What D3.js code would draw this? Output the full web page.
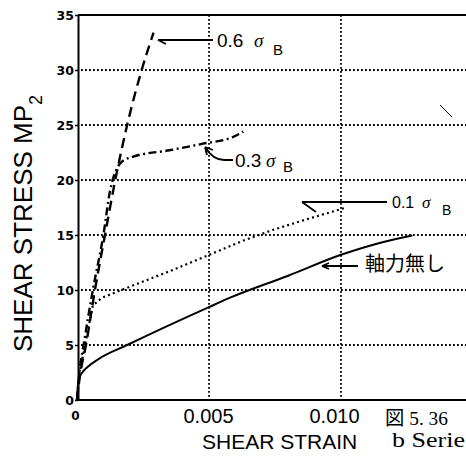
<!DOCTYPE html>
<html><head><meta charset="utf-8">
<script src="https://cdn.jsdelivr.net/npm/d3@7"></script>
<style>body{margin:0;background:#fff}svg{display:block}</style>
</head><body>
<svg id="chart" width="466" height="457"></svg>
<script>
// ---- data ----
const xTicks = [0, 0.005, 0.010];
const xTickLabels = ["0", "0.005", "0.010"];
const yTicks = [0, 5, 10, 15, 20, 25, 30, 35];
const yGrid = [5, 10, 15, 20, 25, 30];
const xGrid = [0.005, 0.010];

// axial load 0.6 σB (dashed)
const strain06 = [0, 0.0001, 0.00034, 0.00068, 0.00106, 0.00145, 0.0019, 0.00245, 0.0029];
const stress06 = [0, 2, 5, 10, 15, 20, 25, 30, 33.4];
// axial load 0.3 σB (dash-dot)
const strain03 = [0, 0.0001, 0.00025, 0.0006, 0.001, 0.00125, 0.0015, 0.00172, 0.0021, 0.0035, 0.00477, 0.0059, 0.0063];
const stress03 = [0, 2.7, 5, 10, 15, 19, 21, 21.7, 22.1, 22.7, 23.3, 23.9, 24.4];
// axial load 0.1 σB (dotted)
const strain01 = [0, 0.0001, 0.0006, 0.00095, 0.002, 0.0035, 0.005, 0.0062, 0.0074, 0.0088, 0.0102];
const stress01 = [0, 2.5, 8.6, 9.3, 10.3, 11.7, 13.2, 14.4, 15.45, 16.5, 17.5];
// no axial load (solid)
const strain00 = [0, 0.00003, 0.0001, 0.0002, 0.0004, 0.0008, 0.0019, 0.005, 0.0058, 0.008, 0.010, 0.0115, 0.0127];
const stress00 = [0, 1.2, 2.1, 2.5, 3.0, 3.7, 5.0, 8.45, 9.3, 11.3, 13.2, 14.3, 14.95];

const zip = (xs, ys) => xs.map((v, i) => [v, ys[i]]);

// ---- chart ----
const svg = d3.select("#chart");
const x = d3.scaleLinear().domain([0, 0.015]).range([77, 473]);
const y = d3.scaleLinear().domain([0, 35]).range([400, 15]);

const line = d3.line().x(d => x(d[0])).y(d => y(d[1])).curve(d3.curveMonotoneX);
const lineStraight = d3.line().x(d => x(d[0])).y(d => y(d[1]));

// grid
svg.append("g").selectAll("line").data(yGrid).join("line")
  .attr("x1", 81).attr("x2", 466)
  .attr("y1", d => y(d)).attr("y2", d => y(d))
  .attr("stroke", "#000").attr("stroke-width", 1.8).attr("stroke-dasharray", "1.8,2.2");
svg.append("g").selectAll("line").data(xGrid).join("line")
  .attr("x1", d => x(d)).attr("x2", d => x(d))
  .attr("y1", y(35)).attr("y2", y(0))
  .attr("stroke", "#000").attr("stroke-width", 1.8).attr("stroke-dasharray", "1.8,2.2");

// top frame
svg.append("line").attr("x1", 78).attr("x2", 466).attr("y1", y(35)).attr("y2", y(35))
  .attr("stroke", "#000").attr("stroke-width", 2);

// left axis
const gy = svg.append("g").attr("transform", "translate(78,0)")
  .call(d3.axisLeft(y).tickValues(yTicks).tickSize(3).tickSizeOuter(0).tickPadding(1));
gy.select(".domain").attr("stroke-width", 2);
gy.selectAll(".tick line").attr("stroke-width", 1.5);
gy.selectAll(".tick text").attr("font-family", "DejaVu Sans").attr("font-weight", "bold")
  .attr("font-size", 12.5).attr("fill", "#000");

// bottom axis
const gx = svg.append("g").attr("transform", "translate(0,400)")
  .call(d3.axisBottom(x).tickValues(xTicks).tickSize(0).tickSizeOuter(0).tickFormat((d, i) => xTickLabels[i]));
gx.select(".domain").attr("stroke-width", 2).attr("d", "M77,0H466");
gx.selectAll(".tick text").each(function(d, i) {
  const t = d3.select(this).attr("fill", "#000");
  if (i === 0) {
    t.attr("font-family", "DejaVu Sans").attr("font-weight", "bold").attr("font-size", 12)
     .attr("y", 11).attr("dy", "0.71em").attr("dx", -2);
  } else {
    t.attr("font-family", "Liberation Sans").attr("font-size", 20)
     .attr("y", 9).attr("dy", "0.71em").attr("dx", i === 2 ? -7 : -1);
  }
});

// series
svg.append("path").datum(zip(strain00, stress00)).attr("d", line)
  .attr("fill", "none").attr("stroke", "#000").attr("stroke-width", 2);
svg.append("path").datum(zip(strain01, stress01)).attr("d", lineStraight)
  .attr("fill", "none").attr("stroke", "#000").attr("stroke-width", 2.2).attr("stroke-dasharray", "2,3.2");
svg.append("path").datum(zip(strain03, stress03)).attr("d", line)
  .attr("fill", "none").attr("stroke", "#000").attr("stroke-width", 2.4).attr("stroke-dasharray", "8,3.5,2,3.5");
svg.append("path").datum(zip(strain06, stress06)).attr("d", line)
  .attr("fill", "none").attr("stroke", "#000").attr("stroke-width", 2.4).attr("stroke-dasharray", "10,6");

// annotations (leaders)
const ann = svg.append("g").attr("fill", "none").attr("stroke", "#000").attr("stroke-width", 1.8);
ann.append("path").attr("d", "M158,40H213 M158,40L166,44");
ann.append("path").attr("d", "M205,147Q213,160 224,160H233 M205,147L213,150 M205,147L207,155");
ann.append("path").attr("d", "M302,202H387 M302,202L316,212");
ann.append("path").attr("d", "M322,266H358 M322,266L329,263 M322,266L329,269");
svg.append("line").attr("x1", 440).attr("y1", 105).attr("x2", 452).attr("y2", 117)
  .attr("stroke", "#000").attr("stroke-width", 1);

const txt = (xp, yp, s, fam, size, extra) => {
  const t = svg.append("text").attr("x", xp).attr("y", yp).text(s)
    .attr("font-family", fam).attr("font-size", size).attr("fill", "#000");
  if (extra) extra(t);
  return t;
};
txt(217, 47, "0.6", "Liberation Sans", 19);
txt(254, 47, "σ", "Liberation Serif", 19, t => t.attr("font-style", "italic"));
txt(273, 55, "B", "Liberation Sans", 15);
txt(235, 167, "0.3", "Liberation Sans", 19);
txt(266, 167, "σ", "Liberation Serif", 19, t => t.attr("font-style", "italic"));
txt(283, 172, "B", "Liberation Sans", 15);
txt(392, 208, "0.1", "Liberation Sans", 16);
txt(422, 208, "σ", "Liberation Serif", 17, t => t.attr("font-style", "italic"));
txt(442, 215, "B", "Liberation Sans", 14);
txt(365, 271, "軸力無し", "Noto Sans CJK JP", 20);

// axis titles
const yl = svg.append("text").attr("transform", "translate(32,352) rotate(-90)")
  .attr("font-family", "Liberation Sans").attr("font-size", 26).attr("fill", "#000");
yl.append("tspan").text("SHEAR STRESS MP");
yl.append("tspan").text("2").attr("font-size", 18).attr("dy", 10);
txt(202, 449, "SHEAR STRAIN", "Liberation Sans", 21);

// caption
txt(385, 425, "図 5. 36", "Liberation Serif, Noto Sans CJK JP", 19, t => t.attr("textLength", 63).attr("lengthAdjust", "spacingAndGlyphs"));
txt(392, 447, "b Serie", "Liberation Serif", 22, t => t.attr("textLength", 73).attr("lengthAdjust", "spacingAndGlyphs"));
</script>
</body></html>
